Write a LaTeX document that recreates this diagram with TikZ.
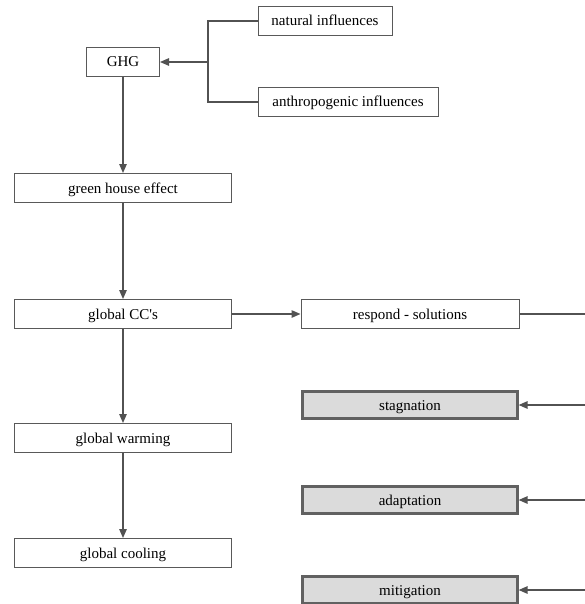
\documentclass[tikz,border=0pt]{standalone}
\usepackage{fontspec}
\setmainfont{Liberation Serif}
\usetikzlibrary{arrows.meta}

\begin{document}
\begin{tikzpicture}[x=1pt,y=-1pt,
	box/.style={draw=black!65, line width=1pt, fill=white, minimum height=29pt, inner sep=0pt, text height=10pt, text depth=0pt, font=\fontsize{15}{17}\selectfont},
	shadebox/.style={box, fill=black!14, draw=black!62, line width=2.2pt, minimum width=215pt, minimum height=27pt},
	arr/.style={draw=black!68, line width=1.3pt, -{Triangle[length=9pt,width=7.5pt]}},
	link/.style={draw=black!68, line width=1.3pt}]
	\useasboundingbox (0,0) rectangle (585,604);
	% Top
	\path (325,21) node[box, minimum width=134pt] (nat) {natural influences};
	\path (348,102) node[box, minimum width=180pt] (anth) {anthropogenic influences};
	\path (123,62) node[box, minimum width=73pt] (ghg) {GHG};
	\coordinate (br) at (208,62);
	\draw[link] (nat.west) -| (br) |- (anth.west);
	\draw[arr] (br) -- (ghg.east);
	% Left column
	\path (123,188) node[box, minimum width=217pt] (ghe) {green house effect};
	\path (123,314) node[box, minimum width=217pt] (gcc) {global CC\textquotesingle s};
	\path (123,438) node[box, minimum width=217pt] (gw) {global warming};
	\path (123,553) node[box, minimum width=217pt] (gc) {global cooling};
	\draw[arr] (ghg) -- (ghe);
	\draw[arr] (ghe) -- (gcc);
	\draw[arr] (gcc) -- (gw);
	\draw[arr] (gw) -- (gc);
	% Right column
	\path (410,314) node[box, minimum width=218pt] (resp) {respond - solutions};
	\path (410,405) node[shadebox] (stag) {stagnation};
	\path (410,500) node[shadebox] (adap) {adaptation};
	\path (410,590) node[shadebox] (miti) {mitigation};
	\draw[arr] (gcc) -- (resp);
	\coordinate (r0) at (585,314);
	\coordinate (r1) at (585,405);
	\coordinate (r2) at (585,500);
	\coordinate (r3) at (585,590);
	\draw[link] (resp.east) -- (r0);
	\draw[arr] (r1) -- (stag.east);
	\draw[arr] (r2) -- (adap.east);
	\draw[arr] (r3) -- (miti.east);
\end{tikzpicture}
\end{document}
